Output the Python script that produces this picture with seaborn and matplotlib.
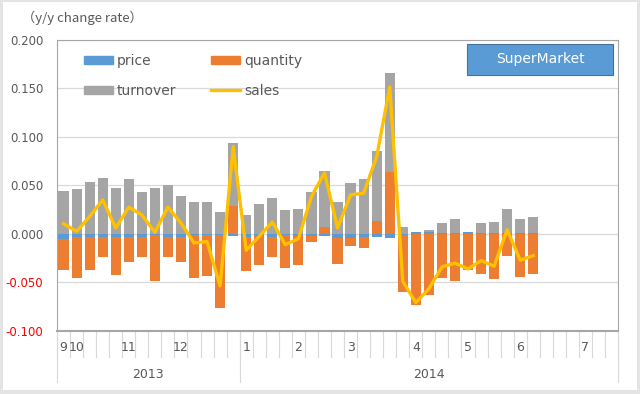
import numpy as np
import pandas as pd
import seaborn as sns
import matplotlib.pyplot as plt
from matplotlib.patches import Patch, Rectangle
from matplotlib.lines import Line2D

# weekly y/y change rates, Sep 2013 - Jun 2014 (axis runs on to Jul 2014)
price = [-0.005, -0.003, -0.003, -0.003, -0.003, -0.003, -0.003, -0.001, -0.003, -0.003,
         -0.001, -0.001, -0.001, -0.002, -0.003, -0.002, -0.003, -0.001, -0.002, -0.002,
         -0.002, -0.004, -0.004, -0.003, -0.003, -0.004, -0.001, 0.002, 0.002, 0.001,
         0.001, 0.002, 0.001, 0.001, 0.001, 0.001, 0.001]
quantity = [-0.0317, -0.0426, -0.034, -0.0206, -0.039, -0.0254, -0.0206, -0.047, -0.0206, -0.026,
            -0.0446, -0.0418, -0.0754, 0.029, -0.0347, -0.0298, -0.0206, -0.0343, -0.0295, -0.006,
            0.0068, -0.0265, -0.008, -0.0118, 0.013, 0.0643, -0.059, -0.0736, -0.063, -0.0456,
            -0.048, -0.0373, -0.041, -0.0459, -0.023, -0.0445, -0.041]
turnover = [0.0448, 0.0462, 0.0534, 0.0575, 0.0475, 0.0565, 0.043, 0.047, 0.0506, 0.0395,
            0.0335, 0.0335, 0.0222, 0.065, 0.0198, 0.031, 0.037, 0.0246, 0.0257, 0.0437,
            0.0585, 0.0335, 0.053, 0.0567, 0.0725, 0.1017, 0.0072, 0.0, 0.0017, 0.0103,
            0.0144, 0.0, 0.0103, 0.011, 0.0247, 0.0144, 0.017]
sales = [0.0106, 0.0027, 0.018, 0.0352, 0.0062, 0.0277, 0.0198, 0.0017, 0.0277, 0.0113,
         -0.0092, -0.0078, -0.0535, 0.090, -0.0168, -0.0024, 0.0123, -0.011, -0.0048, 0.0386,
         0.063, 0.0062, 0.0403, 0.042, 0.0797, 0.1515, -0.0487, -0.0708, -0.0565, -0.034,
         -0.030, -0.036, -0.0274, -0.0332, 0.0044, -0.027, -0.0223]

n_slots = 43
month_pos = [0, 1, 5, 9, 14, 18, 22, 27, 31, 35, 40]
month_names = ["9", "10", "11", "12", "1", "2", "3", "4", "5", "6", "7"]
years = ["2013", "2014"]
year_edges = [0, 14, 43]

BLUE = "#5B9BD5"
ORANGE = "#ED7D31"
GRAY = "#A5A5A5"
GOLD = "#FFC000"
TXT = "#595959"

df = pd.DataFrame({"week": range(len(sales)), "price": price, "quantity": quantity,
                   "turnover": turnover, "sales": sales})
# excel-style stacking: positives upward, negatives downward, in series order
df["pos_p"] = df["price"].clip(lower=0)
df["pos_q"] = df["pos_p"] + df["quantity"].clip(lower=0)
df["pos_t"] = df["pos_q"] + df["turnover"].clip(lower=0)
df["neg_p"] = df["price"].clip(upper=0)
df["neg_q"] = df["neg_p"] + df["quantity"].clip(upper=0)

fig = plt.figure(figsize=(6.4, 3.94), dpi=100)
fig.patch.set_facecolor("#e4e4e4")
fig.add_artist(Rectangle((0.005, 0.01), 0.99, 0.985, transform=fig.transFigure,
                         facecolor="white", edgecolor="none", zorder=-1))
ax = fig.add_axes([0.0891, 0.1599, 0.8766, 0.7386])

for col, c in [("pos_t", GRAY), ("pos_q", ORANGE), ("pos_p", BLUE),
               ("neg_q", ORANGE), ("neg_p", BLUE)]:
    sns.barplot(data=df, x="week", y=col, color=c, saturation=1, width=0.78,
                errorbar=None, linewidth=0, ax=ax, zorder=2)

sns.lineplot(x=df["week"].to_numpy(), y=df["sales"].to_numpy(), color=GOLD, lw=2.4, ax=ax, zorder=3)

ax.set_xlim(-0.5, n_slots - 0.5)
ax.set_ylim(-0.1, 0.2)
ticks = np.arange(-0.1, 0.2001, 0.05)
ax.set_yticks(ticks)
ax.set_yticklabels([f"{v:.3f}" for v in ticks])
for lab, v in zip(ax.get_yticklabels(), ticks):
    lab.set_color("red" if v < -1e-9 else TXT)
ax.tick_params(axis="y", length=0, pad=10, labelsize=8.5)
ax.set_xticks([])
ax.set_xlabel("")
ax.set_ylabel("")
ax.grid(axis="y", color="#d9d9d9", lw=0.9, zorder=0)
ax.set_axisbelow(True)
for s in ["top", "right", "left"]:
    ax.spines[s].set_color("#a6a6a6")
    ax.spines[s].set_linewidth(0.8)
ax.spines["bottom"].set_color("#a6a6a6")
ax.spines["bottom"].set_linewidth(1.5)

# two-level category axis below the plot
tr = ax.get_xaxis_transform()
for k in range(n_slots + 1):
    ax.plot([k - 0.5, k - 0.5], [0, -0.089], color="#d9d9d9", lw=0.8, transform=tr, clip_on=False)
for k in year_edges:
    ax.plot([k - 0.5, k - 0.5], [0, -0.175], color="#d9d9d9", lw=0.8, transform=tr, clip_on=False)
for pos, name in zip(month_pos, month_names):
    ax.text(pos, -0.058, name, transform=tr, ha="center", va="center", fontsize=9, color=TXT)
for i, yr in enumerate(years):
    mid = (year_edges[i] + year_edges[i + 1]) / 2 - 0.5
    ax.text(mid, -0.148, yr, transform=tr, ha="center", va="center", fontsize=9, color=TXT)

fig.text(0.035, 0.954, "（y/y change rate）", fontsize=9.5, color=TXT, va="center",
         family=["Noto Sans CJK JP", "DejaVu Sans"])

handles = [Patch(color=BLUE), Patch(color=GRAY), Patch(color=ORANGE),
           Line2D([], [], color=GOLD, lw=2.4)]
labels = ["price", "turnover", "quantity", "sales"]
ax.legend(handles, labels, ncol=2, loc="upper left", bbox_to_anchor=(0.025, 0.995),
          frameon=False, fontsize=10, handlelength=2.1, handleheight=0.6,
          columnspacing=2.5, labelspacing=1.15, handletextpad=0.3, labelcolor=TXT)

ax.add_patch(Rectangle((0.731, 0.880), 0.26, 0.106, transform=ax.transAxes,
                       facecolor=BLUE, edgecolor="#41719C", lw=0.8, zorder=4))
ax.text(0.861, 0.933, "SuperMarket", transform=ax.transAxes, ha="center", va="center",
        color="white", fontsize=10, zorder=5)

fig.savefig("out.png", dpi=100, facecolor=fig.get_facecolor())
